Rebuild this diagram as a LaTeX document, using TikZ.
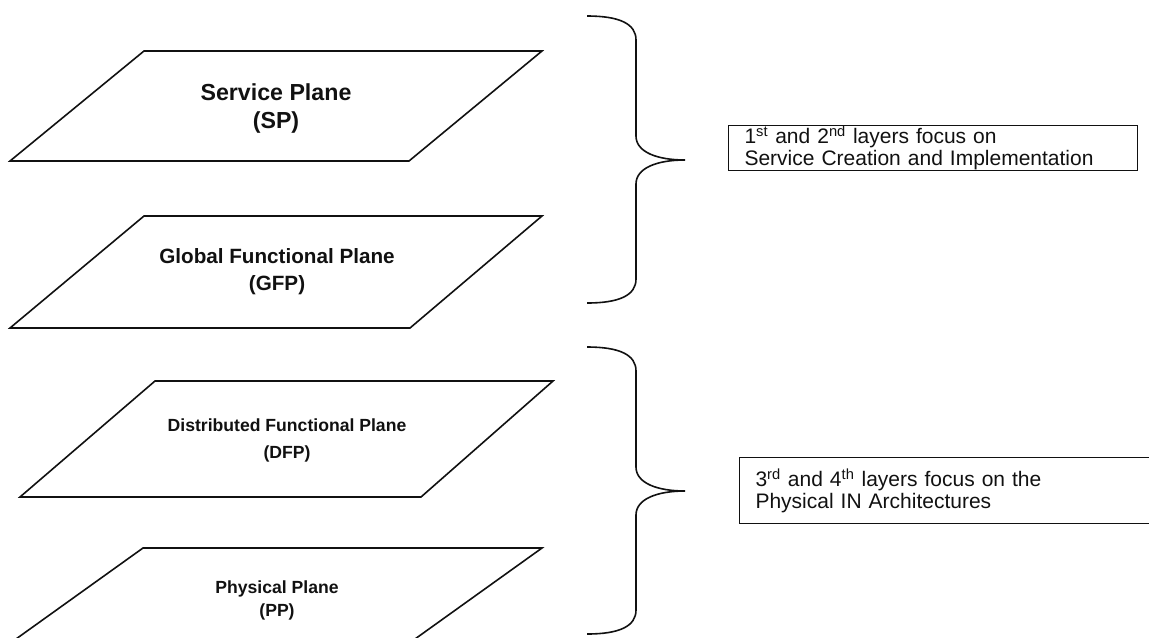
\documentclass[tikz,border=0pt]{standalone}
\usepackage{fontspec}
\setmainfont{Liberation Sans}
\def\wPlane{1.2pt}
\def\wBox{0.8pt}
\def\wBrace{1.2pt}
\definecolor{cInk}{HTML}{111111}
\tikzset{
  plane/.style={draw=cInk, line width=\wPlane, line join=miter},
  lbl/.style={align=center, inner sep=0pt, text=cInk},
  note/.style={draw=cInk, line width=\wBox, anchor=north west, align=left,
    inner xsep=12pt, inner ysep=0pt, text=cInk},
  layerbrace/.pic={
    \draw[draw=cInk, line width=\wBrace] (0,0) .. controls (33,0) and (49,8) .. (49,24) -- (49,120)
      .. controls (49,136) and (70,144) .. (98,144)
      .. controls (70,144) and (49,152) .. (49,168) -- (49,263)
      .. controls (49,279) and (33,287) .. (0,287);
  },
}

\begin{document}
\begin{tikzpicture}[x=0.75pt, y=-0.75pt]
% pixel grid of the reference, y running down
\useasboundingbox (0,0) rectangle (1149,637);
\clip (0,0) rectangle (1149,637);
% four planes
\draw[plane] (144,51) -- (542,51) -- (409,161) -- (10,161) -- cycle;
\node[lbl, font=\bfseries\fontsize{17.4}{21}\selectfont] (sp) at (276,108) {Service Plane\\(SP)};
\draw[plane] (144,216) -- (542,216) -- (410,328) -- (10,328) -- cycle;
\node[lbl, font=\bfseries\fontsize{15.5}{20.3}\selectfont] (gfp) at (277,272) {Global Functional Plane\\(GFP)};
\draw[plane] (155,381) -- (553,381) -- (421,497) -- (20,497) -- cycle;
\node[lbl, font=\bfseries\fontsize{13.2}{20.3}\selectfont] (dfp) at (287,440) {Distributed Functional Plane\\(DFP)};
\draw[plane] (143,548) -- (542,548) -- (408,644) -- (9,644) -- cycle;
\node[lbl, font=\bfseries\fontsize{13.2}{17.3}\selectfont] (pp) at (277,600) {Physical Plane\\(PP)};
% braces and notes
\pic at (587,16) {layerbrace};
\pic at (587,347) {layerbrace};
\node[note, minimum width=306.75pt, minimum height=33.75pt, text width=282.75pt,
  font=\fontsize{15.75}{16.3}\selectfont] (focusA) at (728,125)
  {1\textsuperscript{st} and 2\textsuperscript{nd} layers focus on\\Service Creation and Implementation};
\node[note, minimum width=330pt, minimum height=49.5pt, text width=306pt,
  font=\fontsize{15.75}{16.5}\selectfont] (focusB) at (739,457)
  {3\textsuperscript{rd} and 4\textsuperscript{th} layers focus on the\\Physical IN Architectures};
\end{tikzpicture}
\end{document}
